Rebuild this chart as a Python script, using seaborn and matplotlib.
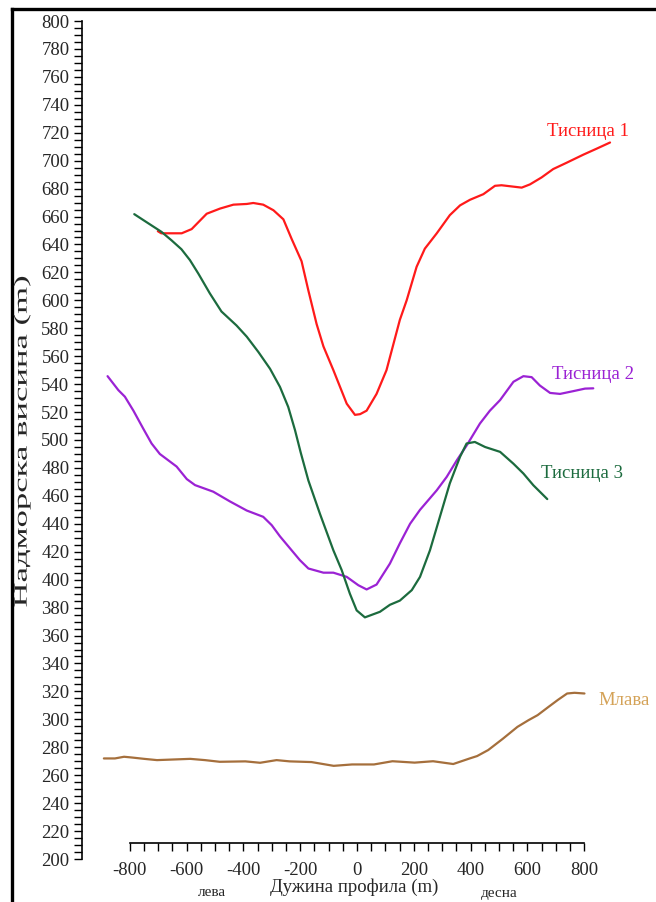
import numpy as np
import pandas as pd
import matplotlib
matplotlib.use("Agg")
import matplotlib.pyplot as plt
from matplotlib.lines import Line2D
from matplotlib.ticker import FixedLocator, MultipleLocator
from matplotlib.patheffects import AbstractPathEffect
from matplotlib.transforms import Affine2D
import seaborn as sns

# Profile lines: distance along the profile (m) and elevation (m)
t1_x = [-701, -689, -617, -582, -529, -482, -435, -388, -365, -330, -294, -259, -230,
        -195, -171, -142, -118, -83, -36, -7, 11, 34, 69, 104, 151, 175, 210, 239, 281,
        327, 363, 398, 445, 486, 509, 580, 609, 650, 691, 738, 797, 844, 891]
t1_y = [649.5, 648, 648, 651, 662, 665.7, 668.5, 669, 669.7, 668.5, 664.5, 658, 644,
        628, 607, 583, 567, 550, 526, 518, 518.5, 521, 533, 550, 586, 600, 624, 637, 648,
        661, 668, 672, 676, 682, 682.4, 680.7, 683, 688, 694, 698.5, 704.3, 708.6, 713]

t2_x = [-878, -840, -817, -787, -752, -723, -694, -635, -599, -570, -506, -447, -388,
        -330, -300, -271, -201, -171, -118, -83, -36, 5, 34, 69, 116, 151, 187, 222, 281,
        316, 352, 386, 433, 468, 504, 551, 586, 615, 644, 680, 715, 762, 803, 832]
t2_y = [545.7, 535.7, 531, 521, 508, 497.5, 490, 481, 472, 467.7, 463, 456, 449.5,
        445, 439, 431, 414, 408, 405, 405, 402, 396, 393, 396.5, 411.5, 426, 440, 450, 464,
        473.6, 485.6, 496, 511.8, 521, 528.6, 541.7, 545.7, 545, 539, 533.7, 533, 535,
        536.8, 537]

t3_x = [-784, -741, -688, -653, -618, -588, -558, -518, -477, -424, -388, -347, -306,
        -271, -242, -218, -198, -171, -130, -83, -54, -25, -1, 28, 81, 116, 151, 193, 222,
        257, 292, 327, 363, 386, 415, 451, 504, 551, 586, 621, 670]
t3_y = [661.7, 656, 649, 643, 636.6, 628.8, 619, 605, 592, 582, 574, 563, 551,
        538, 523.7, 507, 491, 471, 447, 421, 407, 390, 378, 373, 377, 382, 385, 392.5, 402,
        421, 445, 469, 488, 497.5, 498.6, 495, 491.5, 483, 476, 467.6, 457.7]

mlava_x = [-891, -852, -820, -794, -749, -704, -639, -587, -535, -483, -393, -341, -283,
           -237, -160, -82, -17, 60, 125, 203, 268, 339, 397, 423, 462, 513, 565, 604,
           636, 675, 708, 740, 766, 801]
mlava_y = [272, 272, 273.2, 272.7, 271.7, 270.8, 271.3, 271.7, 270.8, 269.6, 269.9,
           268.9, 270.8, 269.9, 269.4, 266.7, 267.7, 267.7, 270, 269, 270, 268, 272, 273.7,
           278, 286, 294.6, 299.4, 303, 309, 314, 318.5, 319, 318.5]

names = ["Тисница 1", "Тисница 2", "Тисница 3", "Млава"]
line_colors = ["#ff1a1a", "#9b22d4", "#1c6b3e", "#a56f3c"]
label_colors = ["#ff1a1a", "#9b22d4", "#1c6b3e", "#d4a257"]
label_pos = [(669, 720.6), (686, 547), (647, 476), (849, 313.8)]

x_ticks = [-800, -600, -400, -200, 0, 200, 400, 600, 800]
y_ticks = list(range(200, 801, 20))


class Stretch(AbstractPathEffect):
    """Scale glyph outlines about a fixed point in display space."""

    def __init__(self, sx, sy, cx, cy):
        super().__init__()
        self._t = Affine2D().translate(-cx, -cy).scale(sx, sy).translate(cx, cy)

    def draw_path(self, renderer, gc, tpath, affine, rgbFace=None):
        renderer.draw_path(gc, tpath, affine + self._t, rgbFace)


frames = []
for name, xs, ys in zip(names, [t1_x, t2_x, t3_x, mlava_x],
                        [t1_y, t2_y, t3_y, mlava_y]):
    frames.append(pd.DataFrame({"dist": xs, "elev": ys, "profile": name}))
df = pd.concat(frames, ignore_index=True)

sns.set_style("white")
plt.rcParams["font.family"] = ["Liberation Serif", "DejaVu Serif"]

W, H = 656, 902
fig = plt.figure(figsize=(W / 100, H / 100), dpi=100)
ax = fig.add_axes([82 / W, (H - 859) / H, (640 - 82) / W, (859 - 21) / H])

sns.lineplot(data=df, x="dist", y="elev", hue="profile", hue_order=names,
             palette=dict(zip(names, line_colors)), sort=False, estimator=None,
             legend=False, linewidth=1.6, ax=ax)

ax.set_xlim(-968, 996.5)
ax.set_ylim(200, 800)

for s in ["top", "right"]:
    ax.spines[s].set_visible(False)
ax.spines["left"].set_linewidth(1.2)
ax.spines["left"].set_color("black")
ax.spines["bottom"].set_position(("data", 211.5))
ax.spines["bottom"].set_bounds(-800, 800)
ax.spines["bottom"].set_linewidth(1.2)
ax.spines["bottom"].set_color("black")

ax.set_xticks(x_ticks)
ax.set_xticklabels([str(v) for v in x_ticks])
ax.xaxis.set_minor_locator(FixedLocator(np.arange(-800, 801, 50)))
ax.set_yticks(y_ticks)
ax.set_yticklabels([str(v) for v in y_ticks])
ax.yaxis.set_minor_locator(MultipleLocator(5))

ax.tick_params(axis="both", which="both", direction="out", color="black",
               width=1.0, length=6, labelsize=13.5)
ax.tick_params(axis="x", which="both", bottom=True, pad=8)
ax.tick_params(axis="y", which="both", left=True, pad=3)
ax.set_xlabel("")
ax.set_ylabel("")
ax.grid(False)

for name, c, (lx, ly) in zip(names, label_colors, label_pos):
    ax.text(lx, ly, name, color=c, fontsize=13.5, ha="left", va="center")

yl_x, yl_y = 22, 441
fig.text(yl_x / W, 1 - yl_y / H, "Надморска висина (m)", rotation=90,
         ha="center", va="center", fontsize=13.5,
         path_effects=[Stretch(1.0, 1.85, yl_x, H - yl_y)])
fig.text(354 / W, 1 - 887 / H, "Дужина профила (m)", ha="center", va="center",
         fontsize=13.5)
fig.text(212 / W, 1 - 893 / H, "лева", ha="center", va="center", fontsize=11)
fig.text(499 / W, 1 - 894 / H, "десна", ha="center", va="center", fontsize=11)

# outer frame
fig.add_artist(Line2D([12 / W, 12 / W], [0, 1 - 8.5 / H], color="black", lw=2.4,
                      solid_capstyle="projecting"))
fig.add_artist(Line2D([12 / W, 1], [1 - 8.5 / H, 1 - 8.5 / H], color="black", lw=2.4,
                      solid_capstyle="projecting"))

fig.savefig("out.png", dpi=100, facecolor="white")
